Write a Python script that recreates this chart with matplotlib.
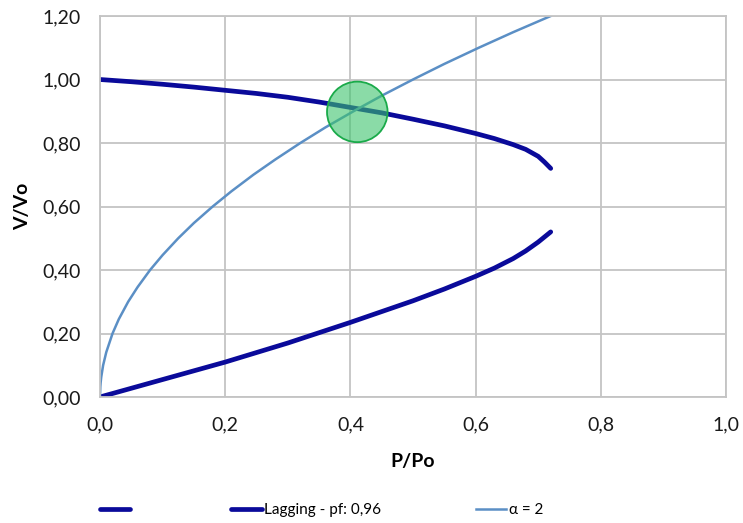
import matplotlib.pyplot as plt

# Data
p_upper = [0.0, 0.05, 0.1, 0.15, 0.2, 0.25, 0.3, 0.35, 0.4, 0.45, 0.5, 0.55, 0.6, 0.63, 0.66, 0.68, 0.70, 0.71, 0.72]
v_upper = [1.0, 0.993, 0.985, 0.976, 0.966, 0.956, 0.944, 0.929, 0.912, 0.895, 0.875, 0.854, 0.83, 0.814, 0.795, 0.78, 0.758, 0.74, 0.72]

p_lower = [0.0, 0.1, 0.2, 0.3, 0.4, 0.5, 0.55, 0.6, 0.63, 0.66, 0.68, 0.70, 0.72]
v_lower = [0.0, 0.055, 0.11, 0.17, 0.235, 0.303, 0.34, 0.38, 0.406, 0.436, 0.46, 0.488, 0.52]

p_alpha = [0.0, 0.0005, 0.001, 0.002, 0.005, 0.01, 0.02, 0.03, 0.045, 0.06, 0.08, 0.1, 0.125,
           0.15, 0.18, 0.21, 0.245, 0.28, 0.32, 0.36, 0.405, 0.45, 0.5, 0.55, 0.605, 0.66, 0.72]
v_alpha = [0.0, 0.032, 0.045, 0.063, 0.1, 0.141, 0.2, 0.245, 0.3, 0.346, 0.4, 0.447, 0.5,
           0.548, 0.6, 0.648, 0.7, 0.748, 0.8, 0.849, 0.9, 0.949, 1.0, 1.049, 1.1, 1.149, 1.2]

point_p = [0.411]
point_v = [0.898]

x_ticks = [0.0, 0.2, 0.4, 0.6, 0.8, 1.0]
y_ticks = [0.0, 0.2, 0.4, 0.6, 0.8, 1.0, 1.2]

plt.rcParams['font.family'] = ['Lato', 'DejaVu Sans']

fig = plt.figure(figsize=(7.43, 5.23), dpi=100)
ax = fig.add_axes([100 / 743, 126 / 523, 626 / 743, 381 / 523])

navy = '#0a0a9a'
ax.plot(p_upper, v_upper, color=navy, lw=3.4, solid_capstyle='round', label=' ')
ax.plot(p_lower, v_lower, color=navy, lw=3.4, solid_capstyle='round', label='Lagging - pf: 0,96')
ax.plot(p_alpha, v_alpha, color='#5b8fc5', lw=1.8, label='α = 2')
ax.scatter(point_p, point_v, s=1900, facecolor='#3cc46c', alpha=0.6, edgecolor='none', zorder=4)
ax.scatter(point_p, point_v, s=1900, facecolor='none', edgecolor='#1aaa4a', lw=1.3, zorder=5)

ax.set_xlim(0, 1.0)
ax.set_ylim(0, 1.2)
ax.set_xticks(x_ticks)
ax.set_yticks(y_ticks)
ax.set_xticklabels([f'{t:.1f}'.replace('.', ',') for t in x_ticks])
ax.set_yticklabels([f'{t:.2f}'.replace('.', ',') for t in y_ticks])
ax.tick_params(length=0, labelsize=14, colors='#1a1a1a', pad=14)

ax.grid(True, color='#c4c4c4', lw=1.3)
ax.set_axisbelow(True)
for s in ax.spines.values():
    s.set_color('#c4c4c4')
    s.set_linewidth(1.3)

ax.set_xlabel('P/Po', fontsize=14, fontweight='bold', labelpad=14)
ax.set_ylabel('V/Vo', fontsize=14, fontweight='bold', labelpad=8)

fig.legend(loc='center left', bbox_to_anchor=(92 / 743, 1 - 510 / 523), ncol=3,
           frameon=False, fontsize=11, handlelength=2.0, handletextpad=0.15,
           columnspacing=6.2, borderpad=0)

fig.savefig('out.png', dpi=100)
